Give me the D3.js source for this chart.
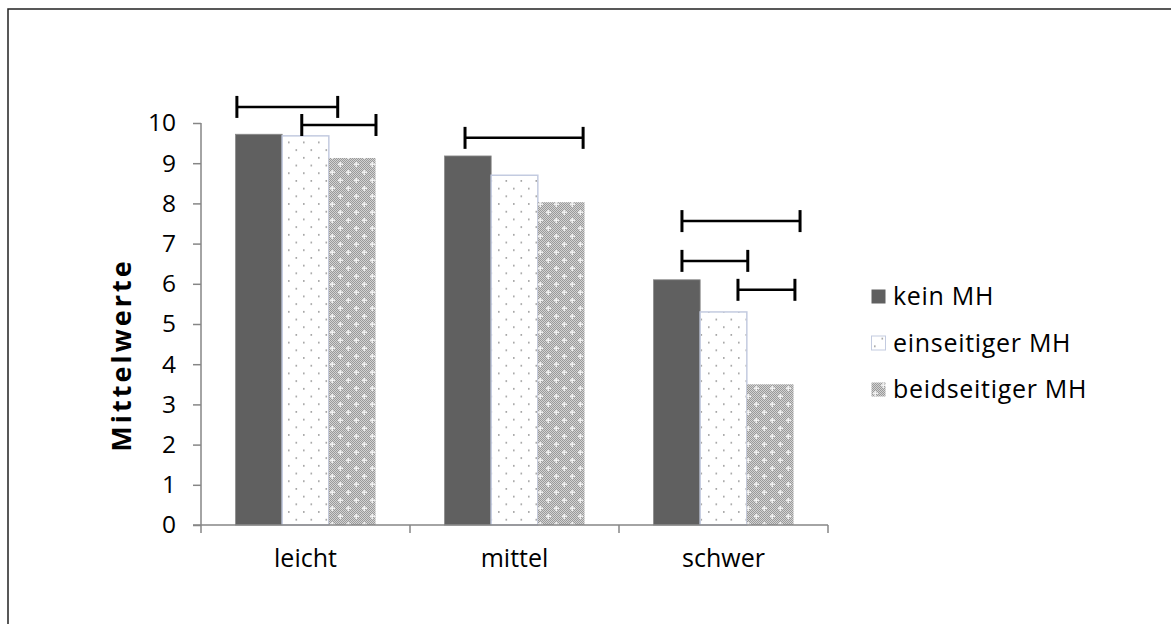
<!DOCTYPE html>
<html>
<head>
<meta charset="utf-8">
<script src="https://cdn.jsdelivr.net/npm/d3@7"></script>
<style>
  body { margin: 0; background: #fff; }
  svg text { font-family: "Open Sans", sans-serif; fill: #000; }
</style>
</head>
<body>
<svg id="chart" width="1171" height="624"></svg>
<script>
var categories = [ "leicht", "mittel", "schwer" ];
var series = [ "kein MH", "einseitiger MH", "beidseitiger MH" ];
var keinValues = [ 9.72, 9.18, 6.1 ];
var einseitigValues = [ 9.68, 8.7, 5.3 ];
var beidseitigValues = [ 9.13, 8.03, 3.5 ];
var yTicks = [ 0, 1, 2, 3, 4, 5, 6, 7, 8, 9, 10 ];

// significance brackets: category, start / end in bar widths, height in value units
var bracketCat = [ "leicht", "leicht", "mittel", "schwer", "schwer", "schwer" ];
var bracketFrom = [ 0.03, 1.42, 0.44, 0.61, 0.61, 1.81 ];
var bracketTo = [ 2.19, 3.01, 2.97, 3.14, 2.02, 3.03 ];
var bracketY = [ 10.4, 9.95, 9.63, 7.56, 6.57, 5.85 ];

var svg = d3.select( "#chart" );
var defs = svg.append( "defs" );

// dotted pattern
var dots = defs.append( "pattern" ).attr( "id", "dots" )
    .attr( "patternUnits", "userSpaceOnUse" ).attr( "width", 15 ).attr( "height", 15.4 );
dots.append( "rect" ).attr( "width", 15 ).attr( "height", 15.4 ).attr( "fill", "#fff" );
dots.append( "rect" ).attr( "x", 3 ).attr( "y", 3 ).attr( "width", 1.6 ).attr( "height", 1.6 ).attr( "fill", "#9a9a9a" );
dots.append( "rect" ).attr( "x", 10.5 ).attr( "y", 10.7 ).attr( "width", 1.6 ).attr( "height", 1.6 ).attr( "fill", "#9a9a9a" );

// fine checker
var chk = defs.append( "pattern" ).attr( "id", "chk" )
    .attr( "patternUnits", "userSpaceOnUse" ).attr( "width", 2 ).attr( "height", 2 );
chk.append( "rect" ).attr( "width", 2 ).attr( "height", 2 ).attr( "fill", "#d2d2d2" );
chk.append( "rect" ).attr( "width", 1 ).attr( "height", 1 ).attr( "fill", "#9a9a9a" );
chk.append( "rect" ).attr( "x", 1 ).attr( "y", 1 ).attr( "width", 1 ).attr( "height", 1 ).attr( "fill", "#9a9a9a" );

// checker with white crosses
var cross = defs.append( "pattern" ).attr( "id", "cross" )
    .attr( "patternUnits", "userSpaceOnUse" ).attr( "width", 16 ).attr( "height", 16 );
cross.append( "rect" ).attr( "width", 16 ).attr( "height", 16 ).attr( "fill", "url(#chk)" );
[ [ 4, 4 ], [ 12, 12 ] ].forEach( function ( p ) {
    cross.append( "rect" ).attr( "x", p[ 0 ] - 2 ).attr( "y", p[ 1 ] - 0.5 ).attr( "width", 5 ).attr( "height", 1.4 ).attr( "fill", "#f4f4f4" );
    cross.append( "rect" ).attr( "x", p[ 0 ] - 0.5 ).attr( "y", p[ 1 ] - 2 ).attr( "width", 1.4 ).attr( "height", 5 ).attr( "fill", "#f4f4f4" );
});

var fills = [ "#606060", "url(#dots)", "url(#cross)" ];
var strokes = [ "#8a8a8a", "#c3cbe0", "none" ];
var values = [ keinValues, einseitigValues, beidseitigValues ];

// outer frame (only top and left visible)
svg.append( "path" ).attr( "d", "M8,624V9H1171" )
    .attr( "fill", "none" ).attr( "stroke", "#222" ).attr( "stroke-width", 1.5 );

var x0 = d3.scaleBand().domain( categories ).range( [ 201, 828 ] )
    .paddingInner( 0.33 ).paddingOuter( 0.165 );
var x1 = d3.scaleBand().domain( series ).range( [ 0, x0.bandwidth() ] );
var y = d3.scaleLinear().domain( [ 0, 10 ] ).range( [ 525, 123 ] );

// bars
series.forEach( function ( s, si ) {
    svg.append( "g" ).selectAll( "rect" )
        .data( categories )
        .enter().append( "rect" )
        .attr( "x", function ( c ) { return x0( c ) + x1( s ); } )
        .attr( "y", function ( c, i ) { return y( values[ si ][ i ] ); } )
        .attr( "width", x1.bandwidth() )
        .attr( "height", function ( c, i ) { return y( 0 ) - y( values[ si ][ i ] ); } )
        .attr( "fill", fills[ si ] )
        .attr( "stroke", strokes[ si ] )
        .attr( "stroke-width", si == 1 ? 1.5 : 0.8 );
});

// y axis
var yAxis = svg.append( "g" ).attr( "transform", "translate(201,0)" )
    .call( d3.axisLeft( y ).tickValues( yTicks ).tickSize( 8 ).tickPadding( 17 ) );
yAxis.select( ".domain" ).attr( "stroke", "#868686" ).attr( "stroke-width", 1.5 )
    .attr( "d", "M0," + y( 10 ) + "V" + y( 0 ) );
yAxis.selectAll( ".tick line" ).attr( "stroke", "#868686" ).attr( "stroke-width", 1.5 );
yAxis.selectAll( ".tick text" ).attr( "font-size", 24.5 )
    .attr( "font-family", "'Open Sans', sans-serif" ).attr( "fill", "#000" );

// x axis
var xAxis = svg.append( "g" ).attr( "transform", "translate(0," + y( 0 ) + ")" );
xAxis.append( "line" ).attr( "x1", 193 ).attr( "x2", 828 )
    .attr( "stroke", "#868686" ).attr( "stroke-width", 1.5 );
var edges = [ x0.range()[ 0 ] ].concat( categories.map( function ( c ) {
    return x0( c ) + x0.bandwidth() + x0.step() * x0.paddingInner() / 2;
}) );
edges[ edges.length - 1 ] = x0.range()[ 1 ];
xAxis.selectAll( "line.t" ).data( edges ).enter().append( "line" )
    .attr( "x1", function ( d ) { return d; } ).attr( "x2", function ( d ) { return d; } )
    .attr( "y1", 0 ).attr( "y2", 8 )
    .attr( "stroke", "#868686" ).attr( "stroke-width", 1.5 );
xAxis.selectAll( "text" ).data( categories ).enter().append( "text" )
    .attr( "x", function ( c ) { return x0( c ) + x0.bandwidth() / 2; } )
    .attr( "y", 42 )
    .attr( "text-anchor", "middle" )
    .attr( "font-size", 25 )
    .text( function ( c ) { return c; } );

// y title
svg.append( "text" )
    .attr( "transform", "translate(131,355) rotate(-90)" )
    .attr( "text-anchor", "middle" )
    .attr( "font-size", 27 ).attr( "font-weight", "bold" )
    .attr( "letter-spacing", 3 )
    .text( "Mittelwerte" );

// significance brackets
var unit = x1.bandwidth();
var br = svg.append( "g" ).selectAll( "g" )
    .data( bracketCat.map( function ( c, i ) {
        return { x1: x0( c ) + bracketFrom[ i ] * unit, x2: x0( c ) + bracketTo[ i ] * unit, y: y( bracketY[ i ] ) };
    }) )
    .enter().append( "g" );
br.append( "line" )
    .attr( "x1", function ( d ) { return d.x1; } ).attr( "x2", function ( d ) { return d.x2; } )
    .attr( "y1", function ( d ) { return d.y; } ).attr( "y2", function ( d ) { return d.y; } )
    .attr( "stroke", "#000" ).attr( "stroke-width", 2.5 );
[ "x1", "x2" ].forEach( function ( k ) {
    br.append( "line" )
        .attr( "x1", function ( d ) { return d[ k ]; } ).attr( "x2", function ( d ) { return d[ k ]; } )
        .attr( "y1", function ( d ) { return d.y - 11; } ).attr( "y2", function ( d ) { return d.y + 11; } )
        .attr( "stroke", "#000" ).attr( "stroke-width", 3 );
});

// legend
var legend = svg.append( "g" ).selectAll( "g" ).data( series ).enter().append( "g" )
    .attr( "transform", function ( d, i ) { return "translate(871," + ( 296 + i * 46.5 ) + ")"; } );
legend.append( "rect" )
    .attr( "x", 0.5 ).attr( "y", -6.5 ).attr( "width", 14 ).attr( "height", 14 )
    .attr( "fill", function ( d, i ) { return fills[ i ]; } )
    .attr( "stroke", function ( d, i ) { return i == 1 ? "#c3cbe0" : "none"; } )
    .attr( "stroke-width", 1 );
legend.append( "text" )
    .attr( "x", 22 ).attr( "y", 9 )
    .attr( "font-size", 25 ).attr( "letter-spacing", 0.7 )
    .text( function ( d ) { return d; } );
</script>
</body>
</html>
